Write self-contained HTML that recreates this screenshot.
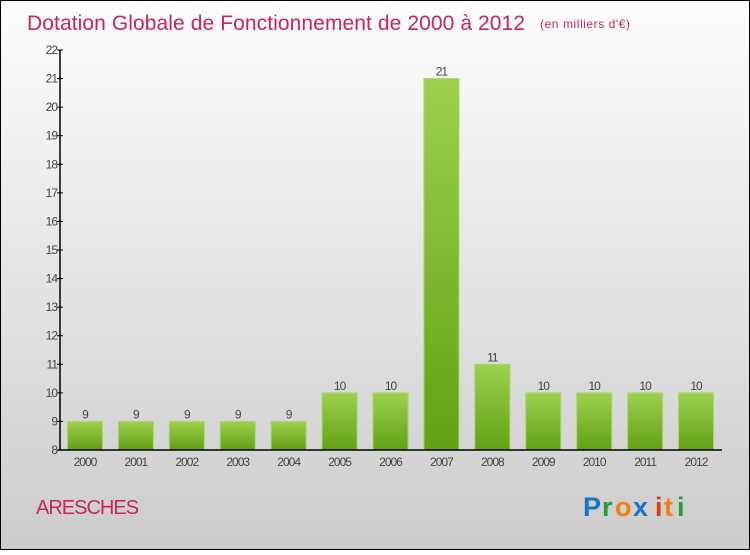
<!DOCTYPE html>
<html><head><meta charset="utf-8"><style>
html,body{margin:0;padding:0}
body{width:750px;height:550px;overflow:hidden}
svg text{font-family:"Liberation Sans",sans-serif}
</style></head><body>
<svg id="c" width="750" height="550" xmlns="http://www.w3.org/2000/svg">
<defs>
<linearGradient id="bg" x1="0" y1="0" x2="0" y2="1"><stop offset="0" stop-color="#fdfdfd"/><stop offset="1" stop-color="#cccccc"/></linearGradient>
<linearGradient id="bar" x1="0" y1="0" x2="0" y2="1"><stop offset="0" stop-color="#9dd14e"/><stop offset="1" stop-color="#62a014"/></linearGradient>
</defs>
<rect x="0.5" y="0.5" width="749" height="549" fill="url(#bg)" stroke="#000"/>
<text x="27" y="30" font-size="21" fill="#c8245e" textLength="498">Dotation Globale de Fonctionnement de 2000 à 2012</text>
<text x="540" y="28" font-size="12" fill="#c8245e" textLength="90">(en milliers d'€)</text>
<text x="36" y="514" font-size="20" fill="#c8245e" letter-spacing="-1">ARESCHES</text>
<g font-size="27" font-weight="bold">
<text x="583" y="516" fill="#1a73c9">P</text><text x="602" y="516" fill="#2a9a3a">r</text><text x="615" y="516" fill="#f08010">o</text><text x="633" y="516" fill="#1a73c9">x</text><text x="655" y="516" fill="#e03a10">i</text><text x="664" y="516" fill="#f08010">t</text><text x="677" y="516" fill="#2a9a3a">i</text>
</g>
<g id="plot"></g>
</svg>
<script>
const categories=["2000","2001","2002","2003","2004","2005","2006","2007","2008","2009","2010","2011","2012"];
const values=[9,9,9,9,9,10,10,21,11,10,10,10,10];
const yTicks=[8,9,10,11,12,13,14,15,16,17,18,19,20,21,22];
const NS="http://www.w3.org/2000/svg";
const g=document.getElementById('plot');
const x0=60,x1=722,yTop=50,yBot=450,yMin=8,yMax=22;
const y=v=>yBot-(v-yMin)/(yMax-yMin)*(yBot-yTop);
const step=(x1-x0)/categories.length;
const xc=i=>x0+step*(i+0.5)-0.5;
function el(t,a){const e=document.createElementNS(NS,t);for(const k in a)e.setAttribute(k,a[k]);g.appendChild(e);return e;}
yTicks.forEach(v=>{
 const t=el('line',{x1:x0-3,x2:x0+3,y1:y(v),y2:y(v),stroke:'#000'});
 
 
 const l=el('text',{x:x0-3,y:y(v)+4,'font-size':12,'text-anchor':'end',fill:'#444','letter-spacing':'-1'});
 l.textContent=v;
 
 
});
categories.forEach((c,i)=>{
 const v=values[i];
 const b=el('rect',{x:xc(i)-17.5,y:y(v),width:35,height:yBot-y(v),fill:'url(#bar)',stroke:'#a6d868','stroke-width':1});
 
 
 const vl=el('text',{x:xc(i),y:y(v)-3,'font-size':12,'text-anchor':'middle',fill:'#444','letter-spacing':'-1'});
 vl.textContent=v;
 
 
 const xl=el('text',{x:xc(i),y:yBot+16,'font-size':12,'text-anchor':'middle',fill:'#444','letter-spacing':'-1'});
 xl.textContent=c;
 
 
});
const ya=el('line',{x1:x0,x2:x0,y1:yTop,y2:yBot,stroke:'#000','stroke-width':1.5});


const xa=el('line',{x1:x0-2,x2:x1,y1:yBot,y2:yBot,stroke:'#000','stroke-width':1.5});


</script>
</body></html>
